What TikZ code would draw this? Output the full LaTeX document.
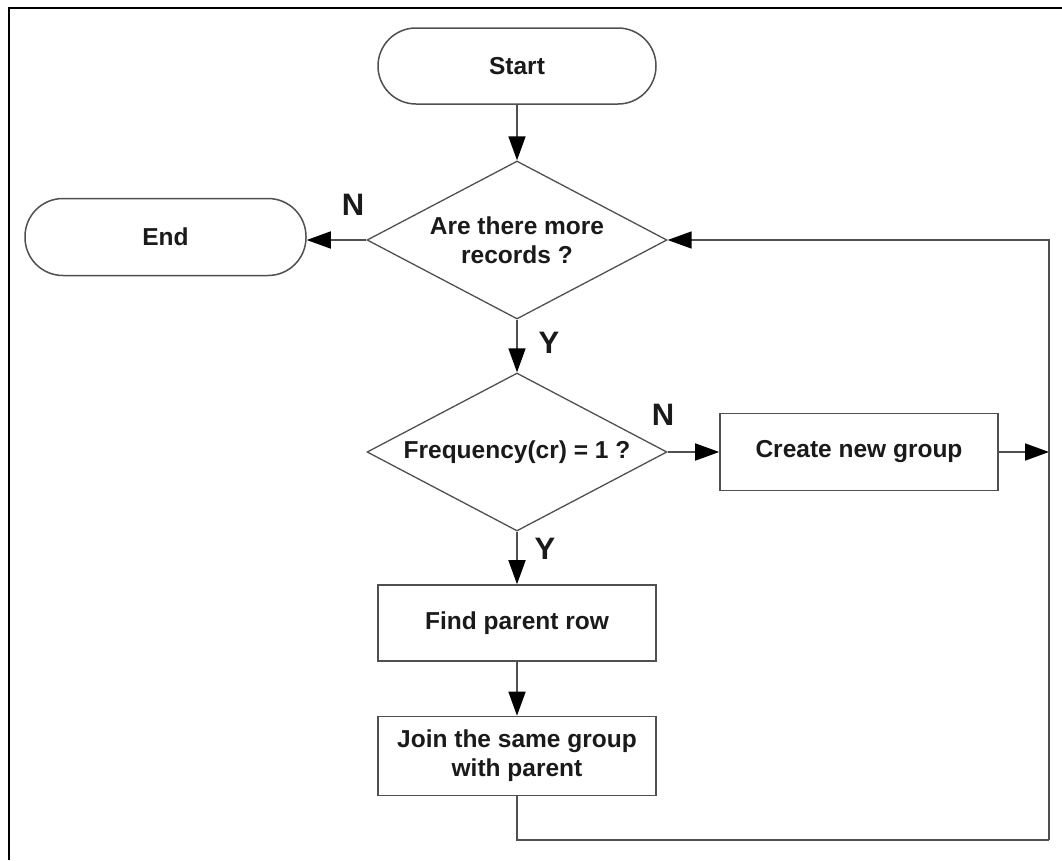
\documentclass[tikz,border=0pt]{standalone}
\usepackage{fontspec}
\setmainfont{Liberation Sans}
\usetikzlibrary{shapes.geometric,arrows.meta}
\definecolor{edgegray}{HTML}{505050}
\definecolor{inkblack}{HTML}{1A1A1A}
\begin{document}
\begin{tikzpicture}[x=1pt,y=-1pt,
  every node/.style={font=\fontsize{24.5}{29}\selectfont\bfseries, text=inkblack},
  flowline/.style={draw=edgegray, line width=1.6pt},
  flowarrow/.style={flowline, -{Triangle[length=24pt,width=17pt,color=black,fill=black]}},
  terminal/.style={draw=edgegray, line width=1.5pt, fill=white, rounded corners=38pt,
    minimum width=281pt, minimum height=77pt, inner sep=0pt},
  process/.style={draw=edgegray, line width=1.6pt, fill=white,
    minimum width=278pt, minimum height=77pt, inner sep=0pt, align=center},
  decision/.style={draw=edgegray, line width=1.3pt, fill=white, diamond, aspect=1.9,
    minimum width=300pt, minimum height=158pt, inner sep=0pt, align=center},
  yn/.style={font=\fontsize{31}{34}\selectfont\bfseries}]
\useasboundingbox (0,0) rectangle (1062,860);
\fill[white] (0,0) rectangle (1062,860);
% outer frame (top and left edges)
\draw[black, line width=2.6pt] (9,860) -- (9,8) -- (1062,8);

% nodes
\node[terminal, minimum width=278pt, minimum height=76pt] (start) at (517,66) {Start};
\node[decision] (d1) at (517,240) {Are there more\\records ?};
\node[terminal] (end) at (165.5,237) {End};
\node[decision] (d2) at (517,452) {Frequency(cr) = 1 ?};
\node[process] (create) at (859,452) {Create new group};
\node[process, minimum height=76pt] (find) at (517,623) {Find parent row};
\node[process, minimum height=79pt] (join) at (517,756) {Join the same group\\with parent};

% loop-back corner
\coordinate (loopR) at (1049,840);

% connectors
\draw[flowarrow] (start.south) -- (d1.north);
\draw[flowarrow] (d1.west) -- (d1.west -| end.east);
\draw[flowarrow] (d1.south) -- (d2.north);
\draw[flowarrow] (d2.east) -- (create.west);
\draw[flowarrow] (d2.south) -- (find.north);
\draw[flowarrow] (find.south) -- (join.north);
\draw[flowarrow] (create.east) -- (create.east -| loopR);
\draw[flowline] (join.south) |- (loopR);
\draw[flowarrow] (loopR) |- (d1.east);

% branch labels
\node[yn] (n1) at (353,205) {N};
\node[yn] (y1) at (549,343) {Y};
\node[yn] (n2) at (663,415) {N};
\node[yn] (y2) at (545,549) {Y};
\end{tikzpicture}
\end{document}
